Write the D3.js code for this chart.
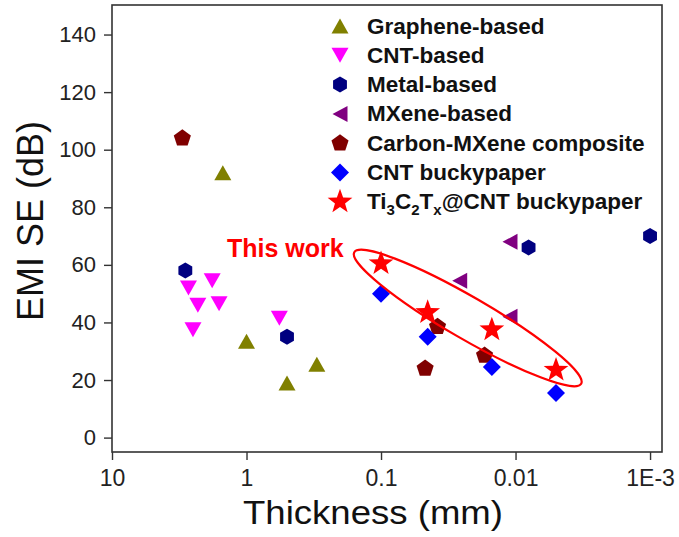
<!DOCTYPE html>
<html>
<head>
<meta charset="utf-8">
<script src="https://cdn.jsdelivr.net/npm/d3@7"></script>
<style>
  html, body { margin: 0; padding: 0; background: #fff; }
  svg { display: block; font-family: Arial, "Liberation Sans", sans-serif; }
</style>
</head>
<body>
<svg id="chart" width="679" height="537"></svg>
<script>
// EMI shielding effectiveness vs. thickness for shielding material families
const grapheneThickness = [1.5, 1.0, 0.5, 0.3];
const grapheneSE        = [92, 33.5, 19, 25.5];

const cntThickness = [2.7, 1.8, 2.3, 1.6, 2.5, 0.57];
const cntSE        = [52, 54.5, 46, 46.5, 37.5, 41.5];

const metalThickness = [2.85, 0.5, 0.008, 0.001];
const metalSE        = [58, 35, 66, 70];

const mxeneThickness = [0.026, 0.011, 0.011];
const mxeneSE        = [54.5, 42, 68];

const carbonMxeneThickness = [3.0, 0.038, 0.047, 0.017];
const carbonMxeneSE        = [104, 38.5, 24, 28.5];

const buckypaperThickness = [0.1, 0.045, 0.015, 0.005];
const buckypaperSE        = [50, 35, 24.5, 15.5];

const tiBuckypaperThickness = [0.1, 0.045, 0.015, 0.005];
const tiBuckypaperSE        = [60.5, 43.5, 37.5, 23.5];

const xTickValues = [10, 1, 0.1, 0.01, 0.001];
const xTickLabels = ["10", "1", "0.1", "0.01", "1E-3"];
const yTickValues = [0, 20, 40, 60, 80, 100, 120, 140];

// ellipse around this work's samples: long-axis ends in data units
const highlightEnds = [[0.158, 64.4], [0.00325, 18.7]];

const svg = d3.select("#chart");
const plot = { left: 112, right: 662, top: 5, bottom: 452 };

const x = d3.scaleLog().domain([10, 8.15e-4]).range([plot.left, plot.right]);
const y = d3.scaleLinear().domain([-5, 150]).range([plot.bottom, plot.top + 0.75]);

// marker shapes
function poly(pts) { return "M" + pts.map(p => p.join(",")).join("L") + "Z"; }
function regular(n, r, rot) {
  const pts = [];
  for (let i = 0; i < n; i++) {
    const a = rot + i * 2 * Math.PI / n;
    pts.push([r * Math.cos(a), r * Math.sin(a)]);
  }
  return poly(pts);
}
const shapes = {
  triUp:   () => poly([[0, -7.5], [8.5, 7.5], [-8.5, 7.5]]),
  triDown: () => poly([[0, 7.5], [8.5, -7.5], [-8.5, -7.5]]),
  triLeft: () => poly([[-7.5, 0], [7.5, -8], [7.5, 8]]),
  hexagon: () => regular(6, 8, -Math.PI / 2),
  pentagon: () => regular(5, 9, -Math.PI / 2),
  diamond: () => poly([[0, -9], [9, 0], [0, 9], [-9, 0]]),
  star: () => {
    const pts = [];
    for (let i = 0; i < 10; i++) {
      const r = i % 2 === 0 ? 13 : 5.3;
      const a = -Math.PI / 2 + i * Math.PI / 5;
      pts.push([r * Math.cos(a), r * Math.sin(a)]);
    }
    return poly(pts);
  }
};

const series = [
  { name: "Graphene-based", t: grapheneThickness, se: grapheneSE, shape: "triUp", color: "#808000" },
  { name: "CNT-based", t: cntThickness, se: cntSE, shape: "triDown", color: "#FF00FF" },
  { name: "Metal-based", t: metalThickness, se: metalSE, shape: "hexagon", color: "#000080" },
  { name: "MXene-based", t: mxeneThickness, se: mxeneSE, shape: "triLeft", color: "#800080" },
  { name: "Carbon-MXene composite", t: carbonMxeneThickness, se: carbonMxeneSE, shape: "pentagon", color: "#800000" },
  { name: "CNT buckypaper", t: buckypaperThickness, se: buckypaperSE, shape: "diamond", color: "#0000FF" },
  { name: "Ti3C2Tx@CNT buckypaper", t: tiBuckypaperThickness, se: tiBuckypaperSE, shape: "star", color: "#FF0000" }
];

// frame
svg.append("rect")
  .attr("x", plot.left).attr("y", plot.top)
  .attr("width", plot.right - plot.left).attr("height", plot.bottom - plot.top)
  .attr("fill", "none").attr("stroke", "#333").attr("stroke-width", 1.6);

// x axis (log, decreasing to the right)
const xMinor = [];
for (let e = -4; e <= 1; e++) {
  for (let m = 2; m <= 9; m++) {
    const v = m * Math.pow(10, e);
    if (v <= 10 && v >= 8.15e-4) xMinor.push(v);
  }
}
const xAxis = svg.append("g").attr("transform", `translate(0,${plot.bottom})`);
xAxis.call(d3.axisBottom(x).tickValues(xMinor).tickSize(4).tickFormat(""));
xAxis.call(d3.axisBottom(x).tickValues(xTickValues).tickSize(8)
  .tickFormat((d, i) => xTickLabels[i]));
xAxis.selectAll(".domain").remove();
xAxis.selectAll("line").attr("stroke", "#333").attr("stroke-width", 1.4);
xAxis.selectAll("text").attr("font-size", 23).attr("fill", "#222").attr("dy", 0).attr("y", 34);

// y axis
const yMinor = d3.range(10, 150, 20);
const yAxis = svg.append("g").attr("transform", `translate(${plot.left},0)`);
yAxis.call(d3.axisLeft(y).tickValues(yMinor).tickSize(4).tickFormat(""));
yAxis.call(d3.axisLeft(y).tickValues(yTickValues).tickSize(8).tickFormat(d3.format("d")));
yAxis.selectAll(".domain").remove();
yAxis.selectAll("line").attr("stroke", "#333").attr("stroke-width", 1.4);
yAxis.selectAll("text").attr("font-size", 22).attr("fill", "#222").attr("x", -16);

// axis titles
svg.append("text")
  .attr("x", 373).attr("y", 524)
  .attr("text-anchor", "middle").attr("font-size", 34).attr("fill", "#111")
  .attr("textLength", 260).attr("lengthAdjust", "spacingAndGlyphs")
  .text("Thickness (mm)");
svg.append("text")
  .attr("transform", "translate(43,221) rotate(-90)")
  .attr("text-anchor", "middle").attr("font-size", 36).attr("fill", "#111")
  .text("EMI SE (dB)");

// data markers
series.forEach(s => {
  svg.append("g").selectAll("path")
    .data(s.t.map((t, i) => [t, s.se[i]]))
    .join("path")
    .attr("d", shapes[s.shape]())
    .attr("transform", d => `translate(${x(d[0])},${y(d[1])})`)
    .attr("fill", s.color);
});

// highlight ellipse around this work
const p0 = [x(highlightEnds[0][0]), y(highlightEnds[0][1])];
const p1 = [x(highlightEnds[1][0]), y(highlightEnds[1][1])];
const cx = (p0[0] + p1[0]) / 2, cy = (p0[1] + p1[1]) / 2;
const rx = Math.hypot(p1[0] - p0[0], p1[1] - p0[1]) / 2;
const angle = Math.atan2(p1[1] - p0[1], p1[0] - p0[0]) * 180 / Math.PI;
svg.append("ellipse")
  .attr("transform", `translate(${cx},${cy}) rotate(${angle})`)
  .attr("rx", rx).attr("ry", 21)
  .attr("fill", "none").attr("stroke", "#FF0000").attr("stroke-width", 2.2);

svg.append("text")
  .attr("x", 227).attr("y", 257)
  .attr("font-size", 25).attr("font-weight", "bold").attr("fill", "#FF0000")
  .text("This work");

// legend
const legend = svg.append("g");
series.forEach((s, i) => {
  const yy = 26 + i * 29.3;
  legend.append("path")
    .attr("d", shapes[s.shape]())
    .attr("transform", `translate(340,${yy})`)
    .attr("fill", s.color);
  const t = legend.append("text")
    .attr("x", 367).attr("y", yy + 7.5)
    .attr("font-size", 22.5).attr("font-weight", "bold").attr("fill", "#111");
  if (s.shape === "star") {
    t.append("tspan").text("Ti");
    t.append("tspan").attr("font-size", 15).attr("dy", 6).text("3");
    t.append("tspan").attr("dy", -6).text("C");
    t.append("tspan").attr("font-size", 15).attr("dy", 6).text("2");
    t.append("tspan").attr("dy", -6).text("T");
    t.append("tspan").attr("font-size", 15).attr("dy", 6).text("x");
    t.append("tspan").attr("dy", -6).text("@CNT buckypaper");
  } else {
    t.text(s.name);
  }
});
</script>
</body>
</html>
